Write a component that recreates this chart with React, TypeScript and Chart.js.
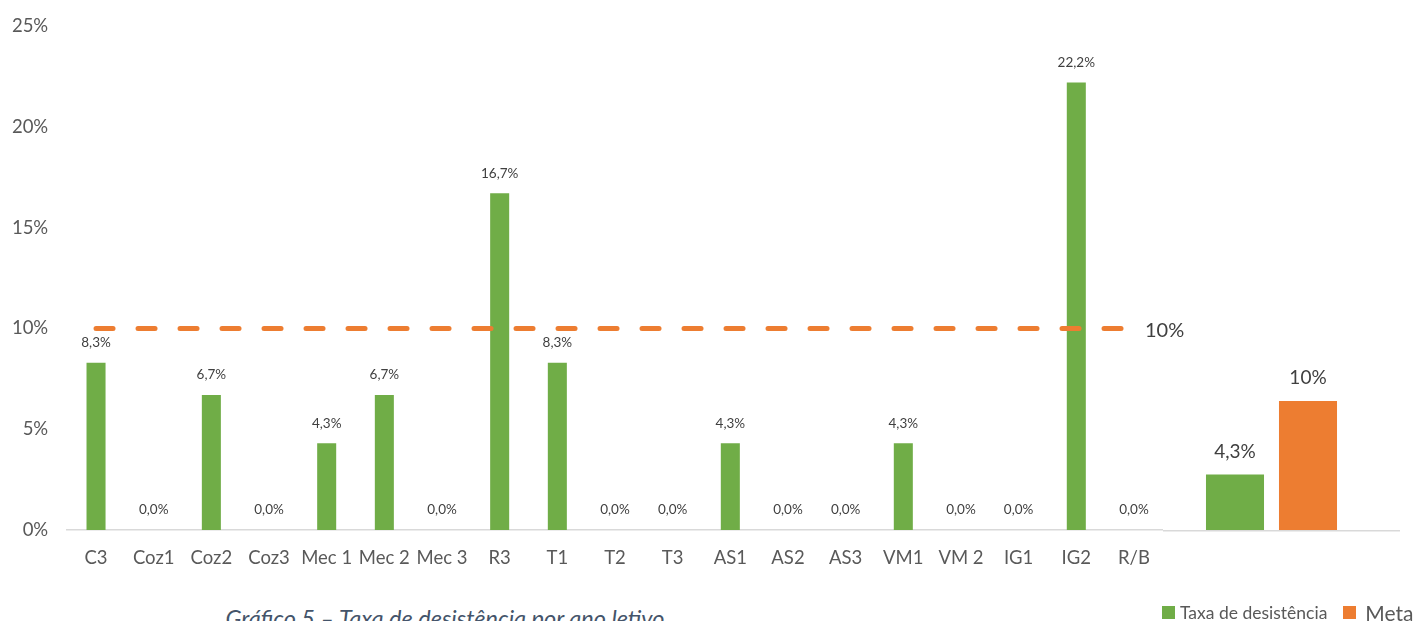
import React, { useEffect, useRef } from "react";
import { Chart, registerables } from "chart.js";

Chart.register(...registerables);

const categories = ["C3", "Coz1", "Coz2", "Coz3", "Mec 1", "Mec 2", "Mec 3", "R3", "T1", "T2", "T3", "AS1", "AS2", "AS3", "VM1", "VM 2", "IG1", "IG2", "R/B"];
const taxaValues = [8.3, 0, 6.7, 0, 4.3, 6.7, 0, 16.7, 8.3, 0, 0, 4.3, 0, 0, 4.3, 0, 0, 22.2, 0];
const metaValue = 10;
const yTicks = [0, 5, 10, 15, 20, 25];
const summaryLabels = ["Taxa de desistência", "Meta"];
const summaryValues = [4.3, 10];
const summaryTexts = ["4,3%", "10%"];

const GREEN = "#70AD47";
const ORANGE = "#ED7D31";
const FONT = "Lato, 'Open Sans', sans-serif";

export default function App() {
  const mainRef = useRef<HTMLCanvasElement | null>(null);
  const sumRef = useRef<HTMLCanvasElement | null>(null);

  useEffect(() => {
    document.body.style.margin = "0";
    document.body.style.overflow = "hidden";

    const barLabels = {
      id: "barLabels",
      afterDatasetsDraw(chart: any) {
        const ctx = chart.ctx;
        ctx.save();
        ctx.font = `13.5px ${FONT}`;
        ctx.fillStyle = "#404040";
        ctx.textAlign = "center";
        ctx.textBaseline = "middle";
        const meta = chart.getDatasetMeta(0);
        meta.data.forEach((el: any, i: number) => {
          const v = taxaValues[i];
          ctx.fillText(v.toFixed(1).replace(".", ",") + "%", el.x, el.y - 20);
        });
        const lm = chart.getDatasetMeta(1);
        const last = lm.data[lm.data.length - 1];
        ctx.font = `20px ${FONT}`;
        ctx.textAlign = "left";
        ctx.fillText(metaValue + "%", last.x + 11, last.y + 2);
        ctx.restore();
      },
    };

    const mainChart = new Chart(mainRef.current as HTMLCanvasElement, {
      type: "bar",
      data: {
        labels: categories,
        datasets: [
          {
            type: "bar",
            label: "Taxa de desistência",
            data: taxaValues,
            backgroundColor: GREEN,
            barPercentage: 0.33,
            categoryPercentage: 1,
            order: 2,
          },
          {
            type: "line",
            label: "Meta",
            data: categories.map(() => metaValue),
            borderColor: ORANGE,
            borderWidth: 5,
            borderDash: [17, 25],
            borderCapStyle: "round",
            pointRadius: 0,
            fill: false,
            order: 1,
          } as any,
        ],
      },
      options: {
        responsive: false,
        animation: false,
        layout: { padding: { left: 0, right: 37.2, top: 26, bottom: 0 } },
        plugins: { legend: { display: false }, tooltip: { enabled: false } },
        scales: {
          x: {
            grid: { display: false, drawTicks: false },
            border: { display: true, color: "#D9D9D9", width: 1.5 },
            ticks: { color: "#595959", font: { family: FONT, size: 18.5 }, padding: 17, autoSkip: false, maxRotation: 0 },
            afterFit(scale: any) {
              scale.height = 70;
            },
          },
          y: {
            min: 0,
            max: 25,
            afterBuildTicks(scale: any) {
              scale.ticks = yTicks.map((v) => ({ value: v }));
            },
            grid: { display: false, drawTicks: false },
            border: { display: false },
            ticks: {
              color: "#595959",
              font: { family: FONT, size: 18.5 },
              padding: 19,
              callback: (v: any) => v + "%",
            },
            afterFit(scale: any) {
              scale.width = 67.2;
              scale.paddingTop = 0;
              scale.paddingBottom = 0;
            },
          },
        },
      },
      plugins: [barLabels],
    } as any);

    const sumPlugin = {
      id: "sumPlugin",
      afterDatasetsDraw(chart: any) {
        const ctx = chart.ctx;
        ctx.save();
        ctx.strokeStyle = "#D9D9D9";
        ctx.lineWidth = 1.5;
        ctx.beginPath();
        ctx.moveTo(13, chart.chartArea.bottom + 0.75);
        ctx.lineTo(250, chart.chartArea.bottom + 0.75);
        ctx.stroke();
        ctx.font = `19px ${FONT}`;
        ctx.fillStyle = "#404040";
        ctx.textAlign = "center";
        ctx.textBaseline = "middle";
        const meta = chart.getDatasetMeta(0);
        meta.data.forEach((el: any, i: number) => {
          ctx.fillText(summaryTexts[i], el.x, el.y - 23);
        });
        ctx.restore();
      },
    };

    const sumChart = new Chart(sumRef.current as HTMLCanvasElement, {
      type: "bar",
      data: {
        labels: summaryLabels,
        datasets: [
          {
            data: summaryValues,
            backgroundColor: [GREEN, ORANGE],
            barPercentage: 0.795,
            categoryPercentage: 1,
          },
        ],
      },
      options: {
        responsive: false,
        animation: false,
        layout: { padding: { left: 48.5, right: 68.5, top: 26, bottom: 70 } },
        plugins: { legend: { display: false }, tooltip: { enabled: false } },
        scales: {
          x: { display: false },
          y: { display: false, min: 0, max: 39.07 },
        },
      },
      plugins: [sumPlugin],
    } as any);

    return () => {
      mainChart.destroy();
      sumChart.destroy();
    };
  }, []);

  return (
    <div style={{ position: "relative", width: 1413, height: 621, overflow: "hidden", background: "#fff" }}>
      <canvas ref={mainRef} width={1200} height={600} style={{ position: "absolute", left: 0, top: 0 }} />
      <canvas ref={sumRef} width={263} height={600} style={{ position: "absolute", left: 1150, top: 0 }} />
      <div
        style={{
          position: "absolute",
          left: 175,
          top: 604,
          width: 540,
          textAlign: "center",
          fontFamily: FONT,
          fontStyle: "italic",
          fontSize: 23.5,
          color: "#44546A",
          whiteSpace: "nowrap",
          lineHeight: "28px",
        }}
      >
        Gráfico 5 – Taxa de desistência por ano letivo
      </div>
      <div style={{ position: "absolute", left: 1162, top: 603, height: 18, display: "flex", alignItems: "center", fontFamily: FONT, whiteSpace: "nowrap" }}>
        <span style={{ display: "inline-block", width: 13, height: 13, background: GREEN, marginRight: 5 }} />
        <span style={{ fontSize: 17.5, color: "#595959", marginRight: 16 }}>{summaryLabels[0]}</span>
        <span style={{ display: "inline-block", width: 13, height: 13, background: ORANGE, marginRight: 9 }} />
        <span style={{ fontSize: 21, color: "#595959" }}>{summaryLabels[1]}</span>
      </div>
    </div>
  );
}
